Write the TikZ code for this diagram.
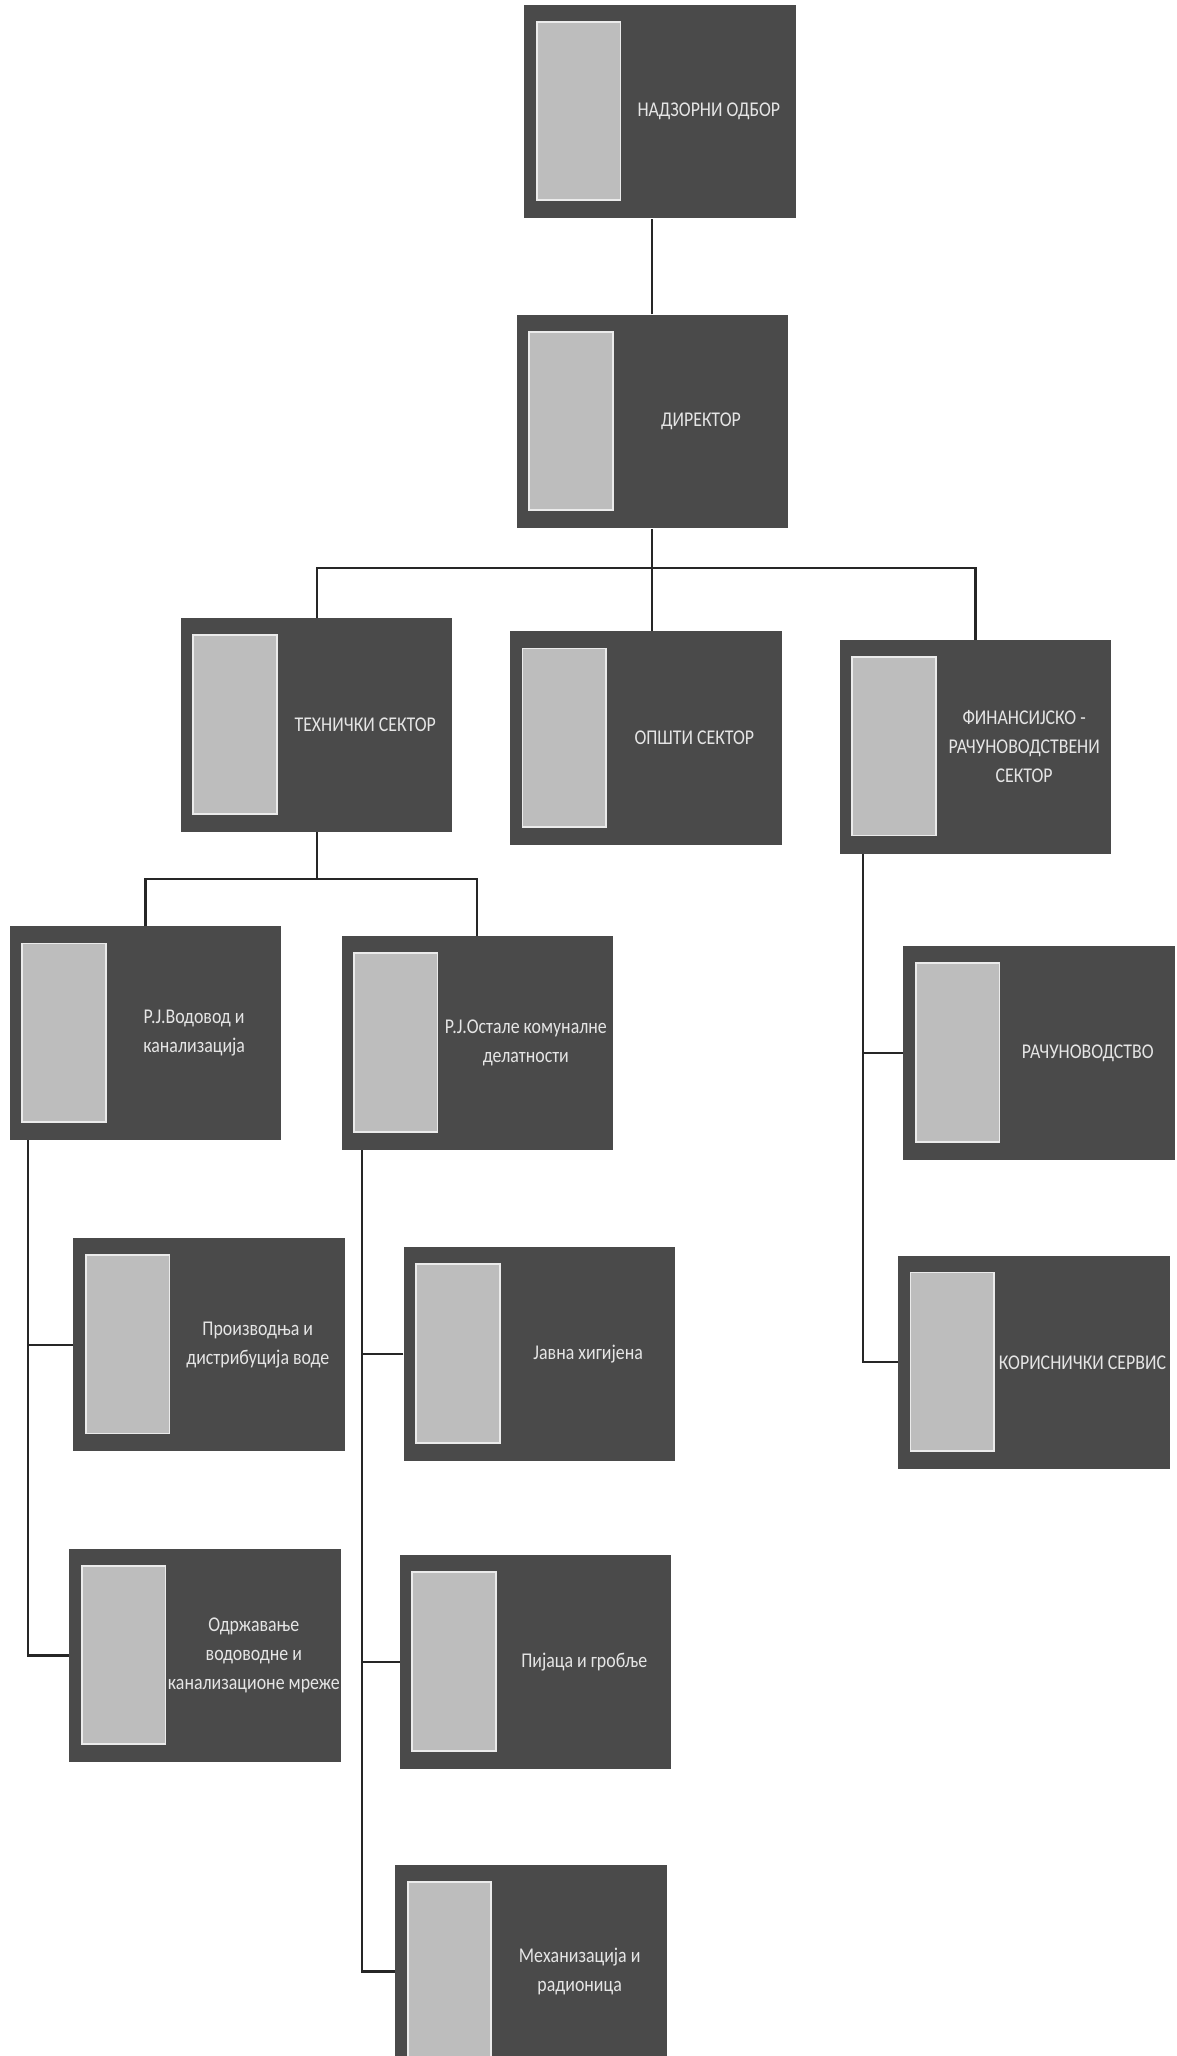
\documentclass[tikz,border=0pt]{standalone}
\usepackage{fontspec}
\setmainfont{Carlito}

\begin{document}
\begin{tikzpicture}[x=0.6555pt, y=-0.6555pt,
  unitbox/.style={rectangle, fill=black!71, minimum width=135.7pt, minimum height=106.8pt, inner sep=0pt,
    path picture={\draw[photo] ([xshift=6.2pt,yshift=-8.5pt]path picture bounding box.north west)
      rectangle ([xshift=48pt,yshift=9pt]path picture bounding box.south west);},
    label={[unittext]center:#1}},
  photo/.style={fill=black!26, draw=white!92!black, line width=0.9pt},
  unittext/.style={xshift=24.3pt, align=center, text=white!90!black,
    font=\addfontfeature{FakeStretch=0.85}\fontsize{10.5}{14.5}\selectfont},
  link/.style={draw=black!85, line width=1.1pt}]
  \useasboundingbox (0,0) rectangle (897,1568);
  \clip (0,0) rectangle (897,1568);
  \fill[white] (0,0) rectangle (897,1568);

  % top
  \node[unitbox={НАДЗОРНИ ОДБОР}] (nad) at (503.5,85) {};
  \node[unitbox={ДИРЕКТОР}] (dir) at (497.5,321.5) {};
  % sectors
  \node[unitbox={ТЕХНИЧКИ СЕКТОР}] (teh) at (241.5,553) {};
  \node[unitbox={ОПШТИ СЕКТОР}] (ops) at (492.5,563) {};
  \node[unitbox={ФИНАНСИЈСКО -\\РАЧУНОВОДСТВЕНИ\\СЕКТОР}] (fin) at (744,569.5) {};
  % units
  \node[unitbox={Р.Ј.Водовод и\\канализација}] (vod) at (111,788) {};
  \node[unitbox={Р.Ј.Остале комуналне\\делатности}] (ost) at (364,795.5) {};
  \node[unitbox={Производња и\\дистрибуција воде}] (pro) at (159.5,1025.5) {};
  \node[unitbox={Одржавање\\водоводне и\\канализационе мреже}] (odr) at (156.5,1262.5) {};
  \node[unitbox={Јавна хигијена}] (jav) at (411.5,1032.5) {};
  \node[unitbox={Пијаца и гробље}] (pij) at (408.5,1267.5) {};
  \node[unitbox={Механизација и\\радионица}] (meh) at (405,1503.5) {};
  \node[unitbox={РАЧУНОВОДСТВО}] (rac) at (792.5,803) {};
  \node[unitbox={КОРИСНИЧКИ СЕРВИС}] (kor) at (788.5,1039) {};

  % links
  \draw[link] (dir.north) -- (dir.north |- nad.south);
  \coordinate (dirbar) at ([yshift=-19.5pt]dir.south);
  \draw[link] (dir.south) -- (dir.south |- ops.north);
  \draw[link] (teh.north) |- (dirbar) -| (fin.north);

  \coordinate (tehbar) at ([yshift=-23.5pt]teh.south);
  \draw[link] (teh.south) -- (tehbar);
  \draw[link] (vod.north) |- (tehbar) -| (ost.north);

  \coordinate (vodtr) at ([xshift=9.2pt]vod.south west);
  \draw[link] (vodtr) |- (odr.west);
  \draw[link] (pro.west) -- (pro.west -| vodtr);

  \coordinate (osttr) at ([xshift=10.5pt]ost.south west);
  \draw[link] (osttr) |- (meh.west);
  \foreach \n in {jav,pij}
    \draw[link] (\n.west) -- (\n.west -| osttr);

  \coordinate (fintr) at ([xshift=11.8pt]fin.south west);
  \draw[link] (fintr) |- (kor.west);
  \draw[link] (rac.west) -- (rac.west -| fintr);
\end{tikzpicture}
\end{document}
